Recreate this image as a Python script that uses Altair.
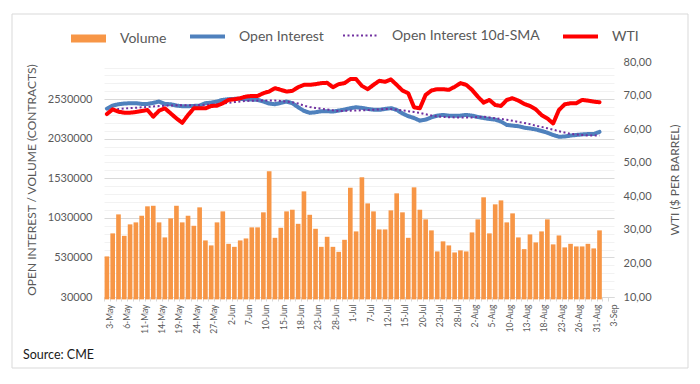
import altair as alt
import pandas as pd

# ---- categories (trading days 3-May .. 3-Sep, US holidays excluded) ----
_days = pd.bdate_range("2021-05-03", "2021-09-03")
_days = [d for d in _days if d.strftime("%Y-%m-%d") not in ("2021-05-31", "2021-07-05")]
dates = [f"{d.day}-{d.strftime('%b')}" for d in _days]

tick_labels = ["3-May", "6-May", "11-May", "14-May", "19-May", "24-May", "27-May",
               "2-Jun", "7-Jun", "10-Jun", "15-Jun", "18-Jun", "23-Jun", "28-Jun",
               "1-Jul", "7-Jul", "12-Jul", "15-Jul", "20-Jul", "23-Jul", "28-Jul",
               "2-Aug", "5-Aug", "10-Aug", "13-Aug", "18-Aug", "23-Aug", "26-Aug",
               "31-Aug", "3-Sep"]

# ---- series ----
volume = [543000, 834000, 1074000, 803000, 948000, 973000, 1057000, 1176000, 1183000, 973000,
          783000, 1024000, 1183000, 973000, 1057000, 930000, 1163000, 745000, 682000, 973000,
          1112000, 702000, 664000, 745000, 770000, 910000, 910000, 1100000, 1619000, 778000,
          905000, 1112000, 1133000, 955000, 1365000, 1069000, 892000, 664000, 791000, 664000,
          601000, 753000, 1411000, 859000, 1543000, 1213000, 1112000, 884000, 884000, 1125000,
          1340000, 1100000, 778000, 1416000, 1133000, 1011000, 872000, 606000, 733000, 682000,
          593000, 619000, 606000, 846000, 1011000, 1290000, 834000, 1201000, 1251000, 973000,
          1087000, 783000, 635000, 821000, 720000, 859000, 1011000, 695000, 808000, 657000,
          702000, 669000, 669000, 702000, 644000, 872000]

open_interest = [2410000, 2449000, 2466000, 2475000, 2479000, 2479000, 2470000, 2470000, 2483000, 2500000,
                 2470000, 2466000, 2449000, 2441000, 2441000, 2445000, 2449000, 2479000, 2487000, 2500000,
                 2521000, 2530000, 2534000, 2534000, 2530000, 2525000, 2521000, 2500000, 2475000, 2466000,
                 2483000, 2500000, 2479000, 2428000, 2382000, 2357000, 2365000, 2378000, 2378000, 2373000,
                 2386000, 2398000, 2416000, 2428000, 2420000, 2407000, 2398000, 2395000, 2407000, 2416000,
                 2395000, 2350000, 2315000, 2292000, 2259000, 2272000, 2300000, 2322000, 2331000, 2322000,
                 2322000, 2322000, 2331000, 2322000, 2305000, 2292000, 2280000, 2272000, 2247000, 2205000,
                 2196000, 2188000, 2170000, 2160000, 2148000, 2128000, 2106000, 2078000, 2055000, 2058000,
                 2070000, 2078000, 2085000, 2089000, 2089000, 2117000]

oi_sma = [None, 2398000, 2405000, 2412000, 2418000, 2422000, 2427000, 2432000, 2438000, 2443000,
          2447000, 2450000, 2453000, 2454000, 2454000, 2454000, 2456000, 2459000, 2462000, 2468000,
          2477000, 2485000, 2493000, 2501000, 2507000, 2510000, 2512000, 2513000, 2513000, 2512000,
          2508000, 2500000, 2492000, 2475000, 2448000, 2432000, 2420000, 2410000, 2400000, 2390000,
          2380000, 2383000, 2385000, 2387000, 2390000, 2393000, 2397000, 2401000, 2405000, 2405000,
          2398000, 2388000, 2378000, 2368000, 2358000, 2340000, 2325000, 2312000, 2305000, 2302000,
          2300000, 2300000, 2300000, 2300000, 2305000, 2308000, 2300000, 2290000, 2280000, 2270000,
          2258000, 2243000, 2230000, 2215000, 2195000, 2180000, 2163000, 2145000, 2125000, 2108000,
          2092000, 2084000, 2078000, 2072000, 2070000, 2070000]

wti = [64.5, 65.9, 65.2, 64.9, 64.9, 65.1, 65.4, 65.7, 63.7, 65.5,
       66.2, 64.7, 63.2, 61.9, 64.2, 66.2, 66.2, 66.2, 66.9, 67.0,
       67.7, 68.7, 68.9, 69.2, 69.7, 69.9, 69.9, 70.7, 71.2, 72.2,
       71.7, 71.2, 71.4, 72.5, 73.2, 73.2, 73.4, 73.7, 73.8, 72.5,
       73.4, 73.7, 74.9, 74.9, 72.9, 71.9, 73.2, 74.4, 74.1, 74.8,
       73.2, 71.5, 70.7, 66.5, 66.2, 70.2, 71.5, 71.9, 71.9, 71.7,
       72.6, 73.7, 73.2, 71.7, 69.7, 67.9, 68.7, 67.2, 66.9, 68.7,
       69.2, 68.5, 67.5, 66.9, 65.9, 64.2, 63.2, 61.7, 65.7, 67.4,
       67.7, 67.7, 68.7, 68.5, 68.2, 68.0]

series_names = ["Volume", "Open Interest", "Open Interest 10d-SMA", "WTI"]
series_colors = ["#F79646", "#4F81BD", "#7030A0", "#FF0000"]
series_widths = [8, 4, 2, 4]
series_dashes = [[1, 0], [1, 0], [2, 2.5], [1, 0]]

left_ticks = list(range(30000, 3000000, 100000))
right_ticks = [10, 20, 30, 40, 50, 60, 70, 80]

FONT = "Lato"
TXT = "#595959"

n = len(volume)
vol_df = pd.DataFrame({"date": dates[:n], "value": volume, "series": "Volume"})
oi_df = pd.DataFrame({"date": dates[:n], "value": open_interest, "series": "Open Interest"})
sma_df = pd.DataFrame({"date": dates[:n], "value": oi_sma, "series": "Open Interest 10d-SMA"}).dropna()
wti_df = pd.DataFrame({"date": dates[:n], "value": wti, "series": "WTI"})

label_list = "[" + ",".join("'" + t + "'" for t in tick_labels) + "]"

x_enc = alt.X(
    "date:N",
    sort=None,
    scale=alt.Scale(domain=dates, paddingInner=0.2, paddingOuter=0.1),
    axis=alt.Axis(
        values=dates,
        labelExpr=f"indexof({label_list}, datum.value) >= 0 ? datum.value : ''",
        labelAngle=270,
        labelFont=FONT,
        labelFontSize=8.5,
        labelColor=TXT,
        labelPadding=3,
        labelOverlap=False,
        bandPosition=0,
        labelOffset=2.9,
        ticks=True,
        tickSize=4,
        tickColor="#d9d9d9",
        domainColor="#d9d9d9",
        grid=False,
        title=None,
    ),
)

legend = alt.Legend(
    title=None,
    orient="none",
    legendX=-37,
    legendY=-45,
    direction="horizontal",
    columns=4,
    gridAlign="none",
    padding=0,
    symbolType="stroke",
    symbolSize=1225,
    symbolOpacity=1,
    labelFont=FONT,
    labelFontSize=14,
    labelColor=TXT,
    labelOffset=10,
    columnPadding=15,
)

color_scale = alt.Scale(domain=series_names, range=series_colors)
width_scale = alt.Scale(type="ordinal", domain=series_names, range=series_widths)
dash_scale = alt.Scale(domain=series_names, range=series_dashes)


def line_encodings():
    return dict(
        color=alt.Color("series:N", scale=color_scale, legend=legend),
        strokeWidth=alt.StrokeWidth("series:N", scale=width_scale, legend=legend),
        strokeDash=alt.StrokeDash("series:N", scale=dash_scale, legend=legend),
    )


left_scale = alt.Scale(domain=[30000, 3000000], nice=False, zero=False)
left_axis = alt.Axis(
    values=left_ticks,
    format="d",
    labelExpr="(datum.value - 30000) % 500000 == 0 ? datum.label : ''",
    ticks=False,
    tickSize=0,
    domain=False,
    grid=True,
    gridColor={"condition": {"test": "(datum.value - 30000) % 500000 == 0", "value": "#d9d9d9"},
               "value": "#f2f2f2"},
    gridWidth=1,
    labelPadding=12,
    labelFont=FONT,
    labelFontSize=11,
    labelColor=TXT,
    title="OPEN INTEREST / VOLUME (CONTRACTS)",
    titleFont=FONT,
    titleFontSize=12,
    titleFontWeight="normal",
    titleColor=TXT,
    titlePadding=9,
)

bars = alt.Chart(vol_df).mark_bar(color="#F79646").encode(
    x=x_enc,
    y=alt.Y("value:Q", scale=left_scale, axis=left_axis),
)
oi_line = alt.Chart(oi_df).mark_line(strokeCap="round", strokeJoin="round").encode(
    x=x_enc,
    y=alt.Y("value:Q", scale=left_scale, axis=left_axis),
    **line_encodings(),
)
sma_line = alt.Chart(sma_df).mark_line().encode(
    x=x_enc,
    y=alt.Y("value:Q", scale=left_scale, axis=left_axis),
    **line_encodings(),
)
left_layer = alt.layer(bars, oi_line, sma_line)

wti_line = alt.Chart(wti_df).mark_line(strokeCap="round", strokeJoin="round").encode(
    x=x_enc,
    y=alt.Y(
        "value:Q",
        scale=alt.Scale(domain=[10, 80], nice=False, zero=False),
        axis=alt.Axis(
            orient="right",
            values=right_ticks,
            labelExpr="replace(format(datum.value, '.2f'), '.', ',')",
            ticks=False,
            tickSize=0,
            domain=False,
            grid=False,
            labelPadding=9,
            labelFont=FONT,
            labelFontSize=11,
            labelColor=TXT,
            title="WTI ($ PER BARREL)",
            titleFont=FONT,
            titleFontSize=12,
            titleFontWeight="normal",
            titleColor=TXT,
            titleAngle=270,
            titleBaseline="top",
            titlePadding=18,
        ),
    ),
    **line_encodings(),
)

dummy = pd.DataFrame({"k": [0]})
frame = alt.Chart(dummy).mark_rect(fillOpacity=0, stroke="#d9d9d9", strokeWidth=1).encode(
    x=alt.value(-92), x2=alt.value(584), y=alt.value(-48), y2=alt.value(306)
)
source = alt.Chart(dummy).mark_text(
    align="left", baseline="alphabetic", font=FONT, fontSize=12.5, color="#1a1a1a"
).encode(x=alt.value(-81), y=alt.value(297), text=alt.value("Source: CME"))

chart = (
    alt.layer(frame, left_layer, wti_line, source)
    .resolve_scale(y="independent")
    .properties(
        width=510,
        height=235,
        autosize=alt.AutoSizeParams(type="none"),
        padding={"left": 96, "top": 54, "right": 76, "bottom": 80},
    )
    .configure(font=FONT)
    .configure_view(stroke="transparent")
)

chart.save("out.html", embed_options={"renderer": "svg", "actions": False})
